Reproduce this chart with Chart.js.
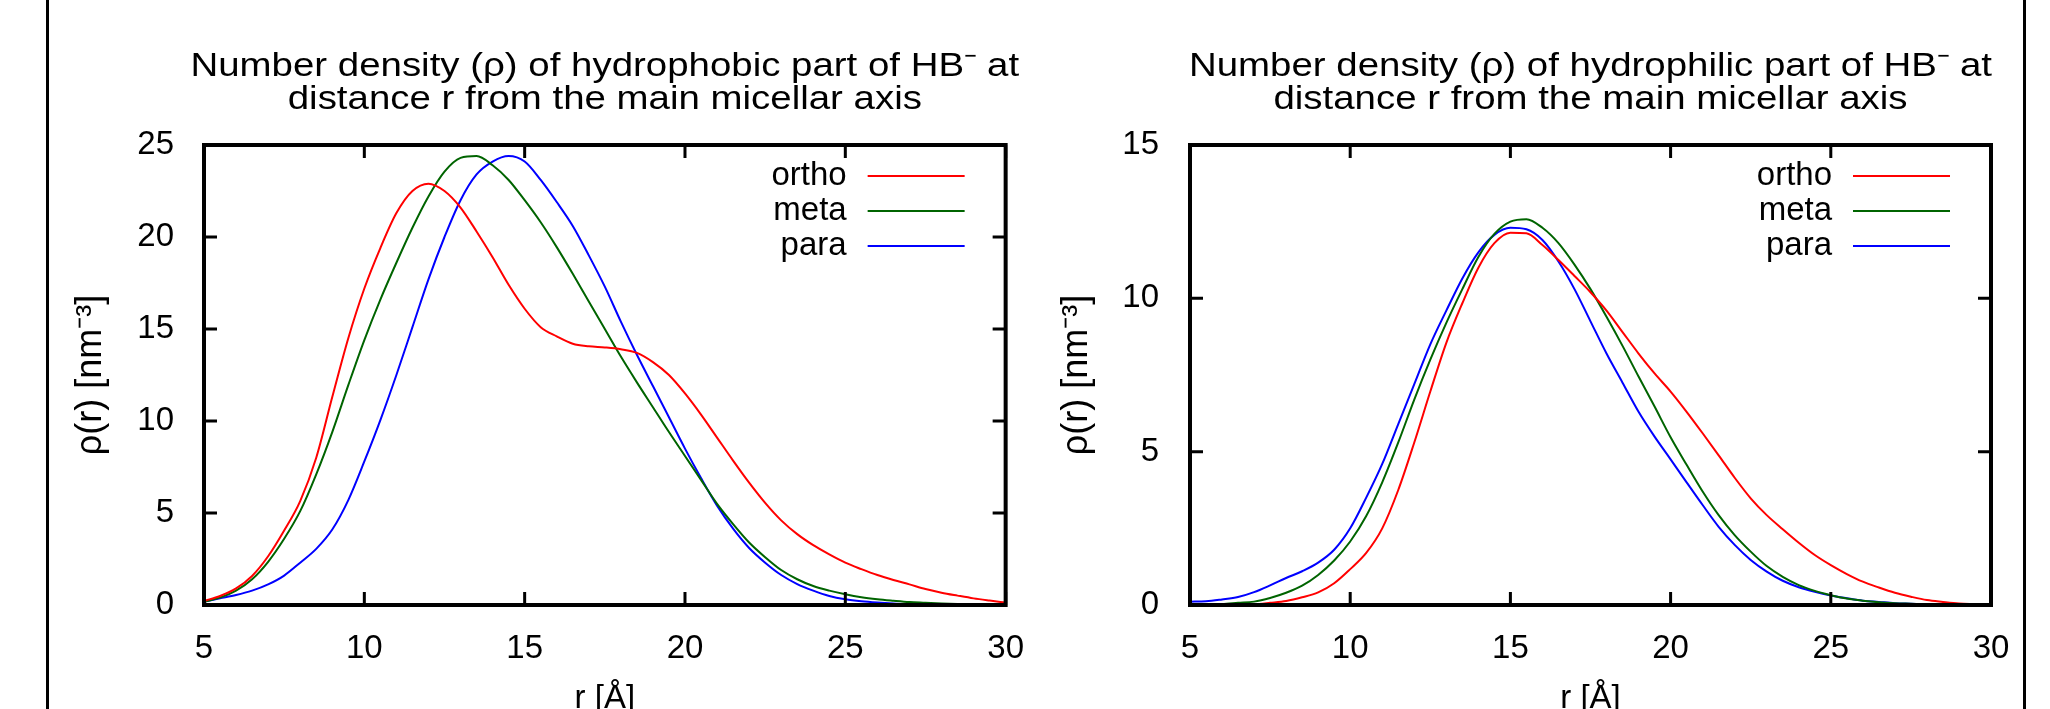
<!DOCTYPE html>
<html>
<head>
<meta charset="utf-8">
<script src="https://cdn.jsdelivr.net/npm/chart.js@4.4.1/dist/chart.umd.min.js"></script>
<style>
    body { margin: 0; background: #fff; }
    #page { position: relative; width: 2050px; height: 709px; overflow: hidden; background: #fff; }
    #page canvas { position: absolute; top: 0; }
    .edge { position: absolute; top: 0; width: 3px; height: 709px; background: #000; }
</style>
</head>
<body>
<div id="page">
    <div class="edge" style="left:46px"></div>
    <div class="edge" style="left:2023px"></div>
    <canvas id="chartPhobic" width="1040" height="709" style="left:0"></canvas>
    <canvas id="chartPhilic" width="1025" height="709" style="left:1025px"></canvas>
</div>
<script>
//-----------------------------------------------------------------------------
// data (r in Angstrom, rho in nm^-3)
//-----------------------------------------------------------------------------
const rValues = [5, 5.5, 6, 6.5, 7, 7.5, 8, 8.5, 9, 9.5,
    10, 10.5, 11, 11.5, 12, 12.5, 13, 13.5, 14, 14.5,
    15, 15.5, 16, 16.5, 17, 17.5, 18, 18.5, 19, 19.5,
    20, 20.5, 21, 21.5, 22, 22.5, 23, 23.5, 24, 24.5,
    25, 25.5, 26, 26.5, 27, 27.5, 28, 28.5, 29, 29.5, 30];

const phobicOrtho = [0.22, 0.49, 0.9, 1.58, 2.65, 4.05, 5.65, 8.0, 11.3, 14.5,
    17.2, 19.4, 21.3, 22.5, 22.9, 22.5, 21.6, 20.3, 18.9, 17.4,
    16.1, 15.1, 14.6, 14.2, 14.06, 14.0, 13.9, 13.7, 13.2, 12.5,
    11.5, 10.35, 9.1, 7.85, 6.65, 5.55, 4.6, 3.85, 3.25, 2.75,
    2.3, 1.95, 1.63, 1.36, 1.12, 0.87, 0.67, 0.51, 0.36, 0.24, 0.13];
const phobicMeta = [0.18, 0.4, 0.78, 1.4, 2.35, 3.6, 5.1, 7.1, 9.4, 11.95,
    14.4, 16.6, 18.6, 20.5, 22.2, 23.55, 24.3, 24.4, 23.9, 23.1,
    22.0, 20.8, 19.45, 18.0, 16.5, 15.0, 13.5, 12.1, 10.75, 9.4,
    8.1, 6.8, 5.5, 4.4, 3.4, 2.6, 1.9, 1.4, 1.03, 0.78,
    0.58, 0.42, 0.31, 0.23, 0.16, 0.12, 0.08, 0.05, 0.03, 0.02, 0.01];
const phobicPara = [0.18, 0.36, 0.54, 0.78, 1.12, 1.6, 2.3, 3.05, 4.1, 5.7,
    7.8, 10.05, 12.5, 15.1, 17.7, 20.0, 22.0, 23.4, 24.1, 24.4,
    24.1, 23.1, 21.9, 20.6, 19.0, 17.3, 15.4, 13.6, 11.9, 10.2,
    8.5, 6.9, 5.4, 4.15, 3.1, 2.3, 1.63, 1.14, 0.78, 0.49,
    0.31, 0.2, 0.13, 0.08, 0.05, 0.03, 0.02, 0.01, 0.01, 0, 0];

const philicOrtho = [0, 0, 0, 0.01, 0.02, 0.07, 0.13, 0.25, 0.41, 0.71,
    1.17, 1.7, 2.5, 3.75, 5.3, 6.96, 8.55, 9.84, 11.0, 11.8,
    12.14, 12.12, 11.74, 11.25, 10.73, 10.2, 9.6, 8.9, 8.2, 7.55,
    6.96, 6.3, 5.6, 4.88, 4.15, 3.48, 2.93, 2.47, 2.03, 1.63,
    1.3, 1.01, 0.76, 0.57, 0.4, 0.27, 0.16, 0.1, 0.05, 0.03, 0.01];
const philicMeta = [0.02, 0.02, 0.03, 0.07, 0.11, 0.23, 0.4, 0.63, 0.98, 1.45,
    2.07, 2.9, 4.0, 5.3, 6.7, 8.0, 9.2, 10.3, 11.35, 12.1,
    12.5, 12.58, 12.3, 11.8, 11.1, 10.3, 9.4, 8.45, 7.45, 6.47,
    5.47, 4.57, 3.7, 2.93, 2.28, 1.74, 1.27, 0.92, 0.65, 0.46,
    0.32, 0.21, 0.14, 0.09, 0.06, 0.04, 0.02, 0.01, 0.01, 0, 0];
const philicPara = [0.11, 0.12, 0.18, 0.26, 0.42, 0.64, 0.88, 1.1, 1.38, 1.8,
    2.5, 3.5, 4.6, 5.9, 7.2, 8.5, 9.6, 10.65, 11.5, 12.07,
    12.3, 12.25, 11.9, 11.2, 10.3, 9.25, 8.2, 7.25, 6.3, 5.49,
    4.75, 4.0, 3.26, 2.55, 1.96, 1.47, 1.09, 0.79, 0.58, 0.43,
    0.31, 0.22, 0.14, 0.1, 0.06, 0.04, 0.02, 0.01, 0.01, 0, 0];

const seriesNames  = ["ortho", "meta", "para"];
const seriesColors = ["#ff0000", "#006400", "#0000ff"];

const rTicks      = [5, 10, 15, 20, 25, 30];
const phobicTicks = [0, 5, 10, 15, 20, 25];
const philicTicks = [0, 5, 10, 15];

const phobicTitle = ["Number density (\u03c1) of hydrophobic part of HB\u207b at",
                     "distance r from the main micellar axis"];
const philicTitle = ["Number density (\u03c1) of hydrophilic part of HB\u207b at",
                     "distance r from the main micellar axis"];
const xTitle = "r [\u00c5]";
const yTitle = "\u03c1(r) [nm\u207b\u00b3]";

const FONT = '"Liberation Sans", Arial, Helvetica, sans-serif';

//-----------------------------------------------------------------------------
// gnuplot look: thick frame, inward mirrored ticks, legend with text left of
// the sample line, and a slightly wide two line title
//-----------------------------------------------------------------------------
const gnuplotFrame = {
    id: "gnuplotFrame",
    afterDatasetsDraw(chart, args, opts) {
        const { ctx, chartArea: a, scales: { x, y } } = chart;
        ctx.save();
        ctx.strokeStyle = "#000";

        // ticks on all four sides, pointing inwards
        ctx.lineWidth = 3;
        ctx.beginPath();
        x.ticks.forEach(t => {
            const px = x.getPixelForValue(t.value);
            ctx.moveTo(px, a.bottom); ctx.lineTo(px, a.bottom - 13);
            ctx.moveTo(px, a.top);    ctx.lineTo(px, a.top + 13);
        });
        y.ticks.forEach(t => {
            const py = y.getPixelForValue(t.value);
            ctx.moveTo(a.left, py);  ctx.lineTo(a.left + 13, py);
            ctx.moveTo(a.right, py); ctx.lineTo(a.right - 13, py);
        });
        ctx.stroke();

        ctx.lineWidth = 4;
        ctx.strokeRect(a.left, a.top, a.right - a.left, a.bottom - a.top);

        // legend
        ctx.font = `33px ${FONT}`;
        ctx.textAlign = "right";
        ctx.textBaseline = "middle";
        ctx.fillStyle = "#000";
        chart.data.datasets.forEach((ds, i) => {
            const rowY = a.top + 31 + i * 35;
            ctx.fillText(ds.label, a.right - 159, rowY);
            ctx.strokeStyle = ds.borderColor;
            ctx.lineWidth = 2;
            ctx.beginPath();
            ctx.moveTo(a.right - 138, rowY);
            ctx.lineTo(a.right - 41, rowY);
            ctx.stroke();
        });

        // title
        ctx.font = `34px ${FONT}`;
        ctx.textAlign = "center";
        ctx.textBaseline = "alphabetic";
        const cx = (a.left + a.right) / 2;
        opts.title.forEach((line, i) => {
            ctx.save();
            ctx.translate(cx, a.top - 69 + i * 33);
            ctx.scale(1.13, 1);
            ctx.fillText(line, 0, 0);
            ctx.restore();
        });
        ctx.restore();
    }
};

//-----------------------------------------------------------------------------
// build one of the two panels
//-----------------------------------------------------------------------------
function drawPanel(canvasId, title, series, yTicks, box){

    const datasets = series.map((values, i) => ({
        label: seriesNames[i],
        data: rValues.map((r, j) => ({ x: r, y: values[j] })),
        borderColor: seriesColors[i],
        borderWidth: 2,
        pointRadius: 0,
        fill: false,
        cubicInterpolationMode: "monotone"
    }));

    const ctx = document.getElementById(canvasId).getContext("2d");
    return new Chart(ctx, {
        type: "line",
        data: { datasets },
        plugins: [gnuplotFrame],
        options: {
            responsive: false,
            animation: false,
            devicePixelRatio: 1,
            layout: { padding: { left: 0, right: box.right, top: 145, bottom: 0 } },
            plugins: {
                legend: { display: false },
                tooltip: { enabled: false },
                gnuplotFrame: { title }
            },
            scales: {
                x: {
                    type: "linear",
                    min: rTicks[0],
                    max: rTicks[rTicks.length - 1],
                    afterBuildTicks: scale => { scale.ticks = rTicks.map(v => ({ value: v })); },
                    afterFit: scale => { scale.height = 104; },
                    grid: { display: false },
                    border: { display: false },
                    ticks: {
                        color: "#000",
                        padding: 16,
                        maxRotation: 0,
                        autoSkip: false,
                        font: { family: FONT, size: 33 }
                    },
                    title: {
                        display: true,
                        text: xTitle,
                        color: "#000",
                        padding: 0,
                        font: { family: FONT, size: 33, lineHeight: 0.6 }
                    }
                },
                y: {
                    type: "linear",
                    min: yTicks[0],
                    max: yTicks[yTicks.length - 1],
                    afterBuildTicks: scale => { scale.ticks = yTicks.map(v => ({ value: v })); },
                    afterFit: scale => { scale.width = box.yWidth; },
                    grid: { display: false },
                    border: { display: false },
                    ticks: {
                        color: "#000",
                        padding: box.tickPad,
                        font: { family: FONT, size: 33 }
                    },
                    title: {
                        display: true,
                        text: yTitle,
                        color: "#000",
                        padding: { top: box.titlePad, bottom: 0 },
                        font: { family: FONT, size: 36 }
                    }
                }
            }
        }
    });
}

drawPanel("chartPhobic", phobicTitle, [phobicOrtho, phobicMeta, phobicPara], phobicTicks,
    { right: 33, yWidth: 204, tickPad: 22, titlePad: 69 });
drawPanel("chartPhilic", philicTitle, [philicOrtho, philicMeta, philicPara], philicTicks,
    { right: 59, yWidth: 165, tickPad: 23, titlePad: 30 });
</script>
</body>
</html>
